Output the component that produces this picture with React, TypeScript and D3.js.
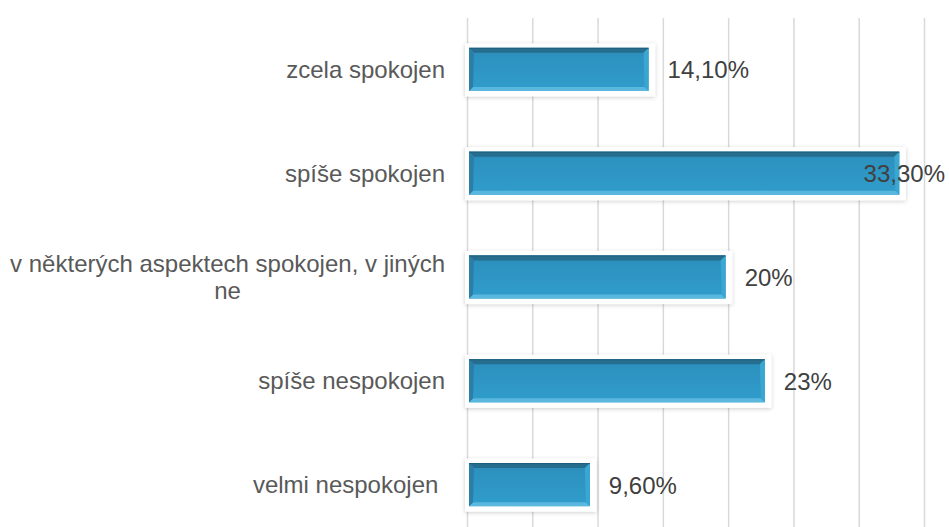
import React, { useEffect, useRef } from "react";
import * as d3 from "d3";

const categories = [
  "zcela spokojen",
  "spíše spokojen",
  "v některých aspektech spokojen, v jiných ne",
  "spíše nespokojen",
  "velmi nespokojen ",
];
const values = [14.1, 33.3, 20, 23, 9.6];
const valueLabels = ["14,10%", "33,30%", "20%", "23%", "9,60%"];
const gridTicks = [0, 5, 10, 15, 20, 25, 30, 35];

const W = 949;
const H = 527;

export default function App() {
  const ref = useRef<SVGSVGElement>(null);

  useEffect(() => {
    const svg = d3.select(ref.current);
    svg.selectAll("*").remove();

    const font = "'Liberation Sans', Arial, sans-serif";
    const fs = 24;
    const x = d3.scaleLinear().domain([0, 35]).range([467.5, 924.5]);
    const y = d3
      .scaleBand<string>()
      .domain(categories)
      .range([17.5, 536.5])
      .paddingInner(0.585)
      .paddingOuter(0.2925);

    const defs = svg.append("defs");
    const f = defs
      .append("filter")
      .attr("id", "glow")
      .attr("x", "-10%")
      .attr("y", "-30%")
      .attr("width", "120%")
      .attr("height", "160%");
    f.append("feDropShadow")
      .attr("dx", 0)
      .attr("dy", 1)
      .attr("stdDeviation", 2)
      .attr("flood-color", "#000")
      .attr("flood-opacity", 0.2);

    const lg = defs
      .append("linearGradient")
      .attr("id", "barfill")
      .attr("x1", 0)
      .attr("y1", 0)
      .attr("x2", 0)
      .attr("y2", 1);
    lg.append("stop").attr("offset", "0%").attr("stop-color", "#2c8fbc");
    lg.append("stop").attr("offset", "100%").attr("stop-color", "#309dcc");

    // gridlines
    svg
      .append("g")
      .selectAll("line")
      .data(gridTicks)
      .join("line")
      .attr("x1", (d) => x(d))
      .attr("x2", (d) => x(d))
      .attr("y1", 18)
      .attr("y2", H)
      .attr("stroke", "#d9d9d9")
      .attr("stroke-width", 1.5);

    const rows = svg
      .append("g")
      .selectAll("g")
      .data(categories.map((c, i) => ({ c, v: values[i], l: valueLabels[i] })))
      .join("g");

    const bh = y.bandwidth();

    // white frame with soft shadow
    rows
      .append("rect")
      .attr("x", x(0) - 2.5)
      .attr("y", (d) => (y(d.c) as number) - 4.5)
      .attr("width", (d) => x(d.v) - x(0) + 6)
      .attr("height", bh + 10)
      .attr("fill", "#ffffff")
      .attr("filter", "url(#glow)");

    rows.each(function (d) {
      const g = d3.select(this);
      const x0 = x(0) + 1.5;
      const x1 = x(d.v) - 3;
      const y0 = y(d.c) as number;
      const y1 = y0 + bh;
      const b = 5;
      g.append("rect")
        .attr("x", x0)
        .attr("y", y0)
        .attr("width", x1 - x0)
        .attr("height", bh)
        .attr("fill", "url(#barfill)");
      const poly = (pts: number[][], fill: string) =>
        g
          .append("polygon")
          .attr("points", pts.map((p) => p.join(",")).join(" "))
          .attr("fill", fill);
      poly(
        [
          [x0, y0],
          [x1, y0],
          [x1 - b, y0 + b],
          [x0 + b, y0 + b],
        ],
        "#276d8d"
      );
      poly(
        [
          [x0, y1],
          [x1, y1],
          [x1 - 4, y1 - 4],
          [x0 + 4, y1 - 4],
        ],
        "#5ab7de"
      );
      poly(
        [
          [x0, y0],
          [x0 + b, y0 + b],
          [x0 + 4, y1 - 4],
          [x0, y1],
        ],
        "#2a7ea8"
      );
      poly(
        [
          [x1, y0],
          [x1 - b, y0 + b],
          [x1 - 4, y1 - 4],
          [x1, y1],
        ],
        "#3aa6d2"
      );
      g.append("line")
        .attr("x1", x0)
        .attr("x2", x1)
        .attr("y1", y0 + 0.5)
        .attr("y2", y0 + 0.5)
        .attr("stroke", "#1f5f7e")
        .attr("stroke-width", 1);
    });

    // value labels
    rows.each(function (d) {
      const g = d3.select(this);
      const cy = (y(d.c) as number) + bh / 2;
      const t = g
        .append("text")
        .attr("x", x(d.v) + 16)
        .attr("y", cy + 9)
        .attr("font-family", font)
        .attr("font-size", fs)
        .attr("fill", "#404040")
        .text(d.l);
      const node = t.node() as SVGTextElement;
      const w = node.getComputedTextLength();
      if (x(d.v) + 16 + w > 945) {
        t.attr("x", 945).attr("text-anchor", "end");
      }
    });

    // category labels with wrapping
    const maxW = 445;
    const rightX = 445;
    rows.each(function (d) {
      const g = d3.select(this);
      const cy = (y(d.c) as number) + bh / 2;
      const words = d.c.split(" ");
      const probe = g
        .append("text")
        .attr("font-family", font)
        .attr("font-size", fs)
        .style("white-space", "pre");
      const lines: string[] = [];
      let cur = "";
      for (const wd of words) {
        const test = cur ? cur + " " + wd : wd;
        probe.text(test);
        if ((probe.node() as SVGTextElement).getComputedTextLength() > maxW && cur) {
          lines.push(cur);
          cur = wd;
        } else {
          cur = test;
        }
      }
      lines.push(cur);
      probe.remove();
      if (d.c.endsWith(" ") && !lines[lines.length - 1].endsWith(" ")) {
        lines[lines.length - 1] += " ";
      }
      const lh = 27;
      const widths: number[] = [];
      const tmp = g
        .append("text")
        .attr("font-family", font)
        .attr("font-size", fs)
        .style("white-space", "pre");
      lines.forEach((ln) => {
        tmp.text(ln);
        widths.push((tmp.node() as SVGTextElement).getComputedTextLength());
      });
      tmp.remove();
      const blockW = Math.max(...widths);
      const cx = rightX - blockW / 2;
      const startY = cy + 8.5 - ((lines.length - 1) * lh) / 2;
      lines.forEach((ln, i) => {
        g.append("text")
          .attr("x", lines.length > 1 ? cx : rightX)
          .attr("y", startY + i * lh)
          .attr("text-anchor", lines.length > 1 ? "middle" : "end")
          .attr("font-family", font)
          .attr("font-size", fs)
          .attr("fill", "#595959")
          .style("white-space", "pre")
          .text(ln);
      });
    });
  }, []);

  return (
    <svg
      ref={ref}
      width={W}
      height={H}
      style={{ position: "absolute", left: 0, top: 0, background: "#fff" }}
    />
  );
}
